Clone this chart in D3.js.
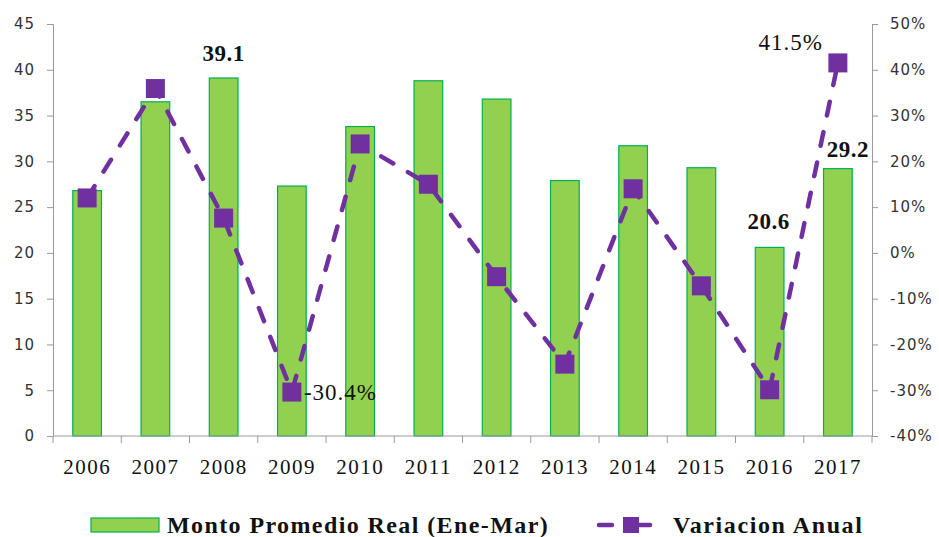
<!DOCTYPE html>
<html>
<head>
  <meta charset="utf-8">
  <title>Monto Promedio Real</title>
  <style>
    body { margin: 0; background: #ffffff; }
    .tick text { font-family: "DejaVu Sans", sans-serif; }
  </style>
</head>
<body>
  <div id="chart"></div>

  <script src="https://d3js.org/d3.v7.min.js"></script>
  <script>
    // Data
    const years = ["2006", "2007", "2008", "2009", "2010", "2011", "2012", "2013", "2014", "2015", "2016", "2017"];
    const monto = [26.8, 36.5, 39.1, 27.3, 33.8, 38.8, 36.8, 27.9, 31.7, 29.3, 20.6, 29.2];
    const variacion = [0.120, 0.359, 0.076, -0.304, 0.238, 0.150, -0.052, -0.243, 0.140, -0.072, -0.299, 0.415];
    const leftTicks = [0, 5, 10, 15, 20, 25, 30, 35, 40, 45];
    const rightTicks = [-0.4, -0.3, -0.2, -0.1, 0, 0.1, 0.2, 0.3, 0.4, 0.5];

    const width = 939, height = 537;
    const margin = { top: 24, right: 67, bottom: 101, left: 53 };
    const innerW = width - margin.left - margin.right;
    const innerH = height - margin.top - margin.bottom;

    const svg = d3.select("#chart")
      .append("svg")
      .attr("width", width)
      .attr("height", height);

    const g = svg.append("g")
      .attr("transform", `translate(${margin.left},${margin.top})`);

    const x = d3.scaleBand()
      .domain(years)
      .range([0, innerW])
      .paddingInner(0.58)
      .paddingOuter(0.29);

    const xBound = d3.scaleLinear()
      .domain([0, years.length])
      .range([0, innerW]);

    const yLeft = d3.scaleLinear().domain([0, 45]).range([innerH, 0]);
    const yRight = d3.scaleLinear().domain([-0.4, 0.5]).range([innerH, 0]);

    const purple = "#7030a0";
    const axisColor = "#9a9a9a";
    // plain hyphen for negatives, like the original
    const pct0 = d => Math.round(d * 100) + "%";
    const pct1 = d => (d * 100).toFixed(1) + "%";

    // bars
    g.selectAll(".bar")
      .data(monto)
      .join("rect")
      .attr("class", "bar")
      .attr("x", (d, i) => x(years[i]))
      .attr("y", d => yLeft(d))
      .attr("width", x.bandwidth())
      .attr("height", d => innerH - yLeft(d))
      .attr("fill", "#92d050")
      .attr("stroke", "#00b050")
      .attr("stroke-width", 1.2);

    // left axis
    const leftAxis = g.append("g")
      .call(d3.axisLeft(yLeft).tickValues(leftTicks).tickSize(6).tickPadding(12));
    leftAxis.select(".domain").attr("stroke", axisColor);
    leftAxis.selectAll(".tick line").attr("stroke", axisColor);
    leftAxis.selectAll(".tick text")
      .attr("font-size", 15).attr("fill", "#333").attr("letter-spacing", 1);

    // right axis
    const rightAxis = g.append("g")
      .attr("transform", `translate(${innerW},0)`)
      .call(d3.axisRight(yRight).tickValues(rightTicks).tickSize(6).tickPadding(12)
        .tickFormat(pct0));
    rightAxis.select(".domain").attr("stroke", axisColor);
    rightAxis.selectAll(".tick line").attr("stroke", axisColor);
    rightAxis.selectAll(".tick text")
      .attr("font-size", 15).attr("fill", "#333").attr("letter-spacing", 1);

    // bottom axis: ticks at band boundaries
    const bottom = g.append("g").attr("transform", `translate(0,${innerH})`);
    bottom.append("line")
      .attr("x1", 0).attr("x2", innerW)
      .attr("stroke", axisColor);
    bottom.selectAll(".btick")
      .data(d3.range(years.length + 1))
      .join("line")
      .attr("x1", d => xBound(d)).attr("x2", d => xBound(d))
      .attr("y1", 0).attr("y2", 7)
      .attr("stroke", axisColor);
    bottom.selectAll(".blabel")
      .data(years)
      .join("text")
      .attr("x", d => x(d) + x.bandwidth() / 2)
      .attr("y", 38)
      .attr("text-anchor", "middle")
      .attr("font-family", "Liberation Serif, serif")
      .attr("font-size", 21)
      .attr("letter-spacing", 1.5)
      .attr("fill", "#111")
      .text(d => d);

    // line
    const cx = (d, i) => x(years[i]) + x.bandwidth() / 2;
    const line = d3.line()
      .x(cx)
      .y(d => yRight(d));

    g.append("path")
      .datum(variacion)
      .attr("d", line)
      .attr("fill", "none")
      .attr("stroke", purple)
      .attr("stroke-width", 4.5)
      .attr("stroke-linecap", "round")
      .attr("stroke-dasharray", "14,17");

    g.selectAll(".marker")
      .data(variacion)
      .join("rect")
      .attr("class", "marker")
      .attr("x", (d, i) => cx(d, i) - 9.5)
      .attr("y", d => yRight(d) - 9.5)
      .attr("width", 19)
      .attr("height", 19)
      .attr("fill", purple);

    // data labels
    const boldLabels = [2, 10, 11];
    const boldDx = { 2: 0, 10: -1, 11: 10 };
    const boldDy = { 2: -17, 10: -18, 11: -12 };
    g.selectAll(".blabelv")
      .data(boldLabels)
      .join("text")
      .attr("x", i => cx(0, i) + boldDx[i])
      .attr("y", i => yLeft(monto[i]) + boldDy[i])
      .attr("text-anchor", "middle")
      .attr("font-family", "Liberation Serif, serif")
      .attr("font-weight", "bold")
      .attr("font-size", 23)
      .attr("letter-spacing", 0.5)
      .attr("fill", "#111")
      .text(i => monto[i].toFixed(1));

    g.append("text")
      .attr("x", cx(0, 3) + 12)
      .attr("y", yRight(variacion[3]) + 8)
      .attr("font-family", "Liberation Serif, serif")
      .attr("font-size", 23)
      .attr("letter-spacing", 1)
      .attr("fill", "#111")
      .text(pct1(variacion[3]));

    g.append("text")
      .attr("x", cx(0, 11) - 15)
      .attr("y", yRight(variacion[11]) - 13)
      .attr("text-anchor", "end")
      .attr("font-family", "Liberation Serif, serif")
      .attr("font-size", 23)
      .attr("letter-spacing", 1)
      .attr("fill", "#111")
      .text(pct1(variacion[11]));

    // legend
    const leg = svg.append("g");
    leg.append("rect")
      .attr("x", 91).attr("y", 518).attr("width", 68).attr("height", 14)
      .attr("fill", "#92d050").attr("stroke", "#00b050").attr("stroke-width", 1.2);
    leg.append("text")
      .attr("x", 167).attr("y", 533)
      .attr("font-family", "Liberation Serif, serif")
      .attr("font-weight", "bold").attr("font-size", 24)
      .attr("letter-spacing", 1.4)
      .attr("fill", "#111")
      .text("Monto Promedio Real (Ene-Mar)");
    leg.append("line")
      .attr("x1", 599).attr("x2", 612).attr("y1", 525).attr("y2", 525)
      .attr("stroke", purple).attr("stroke-width", 4.5).attr("stroke-linecap", "round");
    leg.append("line")
      .attr("x1", 636).attr("x2", 650).attr("y1", 525).attr("y2", 525)
      .attr("stroke", purple).attr("stroke-width", 4.5).attr("stroke-linecap", "round");
    leg.append("rect")
      .attr("x", 623).attr("y", 517).attr("width", 16).attr("height", 16)
      .attr("fill", purple);
    leg.append("text")
      .attr("x", 673).attr("y", 533)
      .attr("font-family", "Liberation Serif, serif")
      .attr("font-weight", "bold").attr("font-size", 24)
      .attr("letter-spacing", 1.6)
      .attr("fill", "#111")
      .text("Variacion Anual");
  </script>
</body>
</html>
